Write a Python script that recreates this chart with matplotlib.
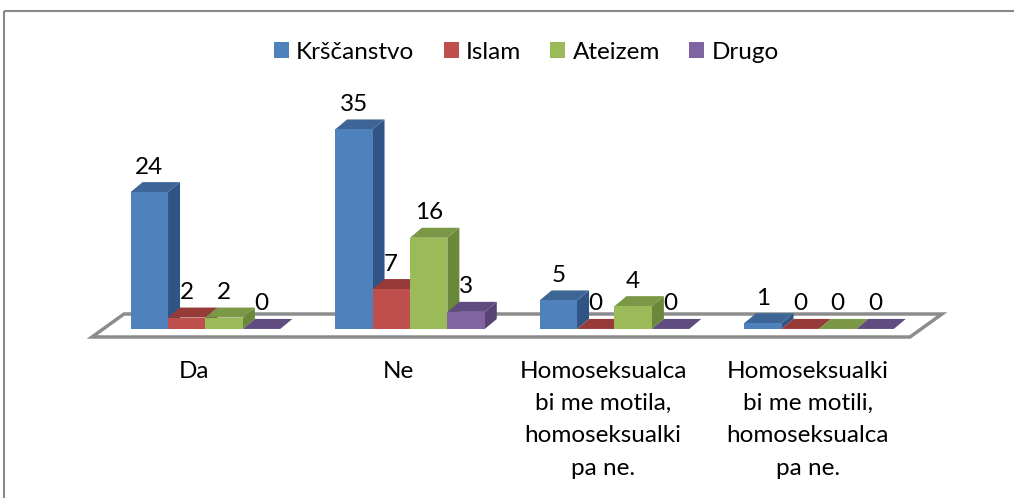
import numpy as np
import matplotlib.pyplot as plt
from matplotlib.patches import Patch, Rectangle

# Survey answers per religion
categories = ['Da', 'Ne',
              'Homoseksualca\nbi me motila,\nhomoseksualki\npa ne.',
              'Homoseksualki\nbi me motili,\nhomoseksualca\npa ne.']
series = ['Krščanstvo', 'Islam', 'Ateizem', 'Drugo']
krscanstvo = [24, 35, 5, 1]
islam = [2, 7, 0, 0]
ateizem = [2, 16, 4, 0]
drugo = [0, 3, 0, 0]
values = [krscanstvo, islam, ateizem, drugo]

# Face colours: front, top, side
front = ['#4f81bd', '#c0504d', '#9bbb59', '#8064a2']
top = ['#3d6697', '#963b38', '#7b9846', '#614c80']
side = ['#2f5485', '#8a3633', '#6a883a', '#574473']

FONT = 'Lato'
FS = 17.5
plt.rcParams['font.family'] = [FONT, 'DejaVu Sans']

fig = plt.figure(figsize=(10.14, 4.98), dpi=100)
ax = fig.add_axes([0, 0, 1, 1])
ax.set_xlim(0, 1014)
ax.set_ylim(498, 0)
ax.axis('off')

# Oblique projection of the 3D plot box
x0, y0 = 92, 337           # front-left corner of the floor
cat_w = 204.5              # width of one category along the floor
floor_dx, floor_dy = 32, -23
unit = 5.7                 # pixels per answer
bar_z = 0.35               # depth of the bar front faces
bar_dx, bar_dy = 12, -10   # depth of a bar
bar_w = 0.183              # bar width, in categories
gap = 0.134

def proj(x, z, v):
    return x0 + x * cat_w + z * floor_dx, y0 + z * floor_dy - v * unit

# outer frame
ax.add_patch(Rectangle((4, 11), 1030, 510, fill=False, ec='#888888', lw=1.5))

# floor
n = len(categories)
floor = [proj(0, 0, 0), proj(n, 0, 0), proj(n, 1, 0), proj(0, 1, 0)]
ax.fill(*zip(*floor), facecolor='white', edgecolor='#8c8c8c', lw=2.5, zorder=1)

for i in range(n):
    for s in range(len(series)):
        v = values[s][i]
        xl = i + gap + s * bar_w
        xr = xl + bar_w
        fl = proj(xl, bar_z, 0)
        fr = proj(xr, bar_z, 0)
        tl = proj(xl, bar_z, v)
        tr = proj(xr, bar_z, v)
        sh = lambda p: (p[0] + bar_dx, p[1] + bar_dy)
        z = 2 + i * 4 + s
        if v > 0:
            ax.fill(*zip(fr, sh(fr), sh(tr), tr), color=side[s], lw=0, zorder=z)
        ax.fill(*zip(tl, tr, sh(tr), sh(tl)), color=top[s], lw=0, zorder=z)
        if v > 0:
            ax.fill(*zip(fl, fr, tr, tl), color=front[s], lw=0, zorder=z)
        ax.text((tl[0] + tr[0]) / 2, tl[1] + bar_dy - 15, str(v),
                ha='center', va='center', fontsize=FS, color='black', zorder=30)

for i, lab in enumerate(categories):
    cx, cy = proj(i + 0.5, 0, 0)
    ax.text(cx, 361, lab, ha='center', va='top', fontsize=FS,
            linespacing=1.66, color='black')

handles = [Patch(facecolor=c, edgecolor='none') for c in front]
ax.legend(handles, series, loc='upper center', bbox_to_anchor=(0.519, 0.96),
          ncol=4, frameon=False, fontsize=FS, handlelength=0.62, handleheight=0.62,
          handletextpad=0.3, columnspacing=1.2)

fig.savefig('out.png', dpi=100)
